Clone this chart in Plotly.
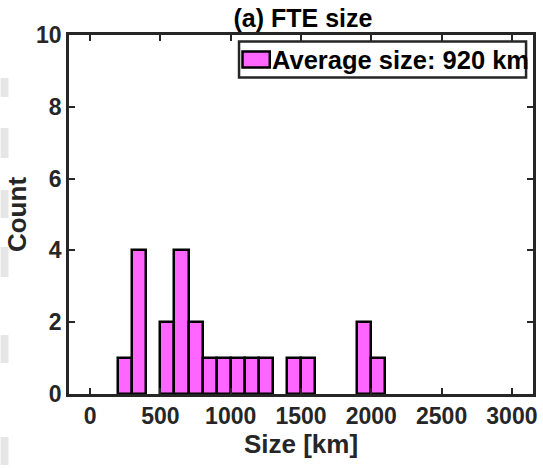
import plotly.graph_objects as go

bin_left = [200, 300, 500, 600, 700, 800, 900, 1000, 1100, 1200, 1400, 1500, 1900, 2000]
counts = [1, 4, 2, 4, 2, 1, 1, 1, 1, 1, 1, 1, 2, 1]
bin_width = 100
x_ticks = [0, 500, 1000, 1500, 2000, 2500, 3000]
y_ticks = [0, 2, 4, 6, 8, 10]
legend_label = "Average size: 920 km"

W, H = 543, 468
L, R, T, B = 69, 537, 35, 394
FONT = "Liberation Sans, Arial, sans-serif"
AX = "#262626"
BAR = "#ff66ff"

centers = [b + bin_width / 2 for b in bin_left]

def px(x):
    return (x - L) / (R - L)

def py(y):
    return (B - y) / (B - T)

fig = go.Figure()
fig.add_trace(go.Bar(
    x=centers, y=counts, width=bin_width,
    marker=dict(color=BAR, line=dict(color="black", width=2.5)),
    name=legend_label, showlegend=False,
))

shapes = []
# light grey artifacts at left edge
patches = [(78, 97), (128, 158), (190, 218), (247, 277), (335, 363), (437, 465)]
for y0, y1 in patches:
    shapes.append(dict(type="rect", xref="paper", yref="paper",
                       x0=px(0), x1=px(8), y0=py(y1), y1=py(y0),
                       fillcolor="#e6e6e6", line=dict(width=0), layer="below"))

# legend box and symbol
shapes.append(dict(type="rect", xref="paper", yref="paper",
                   x0=px(240.5), x1=px(530), y0=py(77.5), y1=py(41.5),
                   fillcolor="white", line=dict(color=AX, width=2.5), layer="above"))
shapes.append(dict(type="rect", xref="paper", yref="paper",
                   x0=px(244), x1=px(271.5), y0=py(67.5), y1=py(51.5),
                   fillcolor=BAR, line=dict(color="black", width=2.5), layer="above"))

annotations = [dict(text="<b>" + legend_label + "</b>", xref="paper", yref="paper",
                    x=px(272), y=py(60), xanchor="left", yanchor="middle",
                    showarrow=False,
                    font=dict(family=FONT, size=25.5, color="black"))]

axis_common = dict(
    showline=True, linecolor=AX, linewidth=2.5, mirror="allticks",
    ticks="inside", ticklen=6, tickwidth=2, tickcolor=AX,
    showgrid=False, zeroline=False,
    tickfont=dict(family=FONT, size=23, color=AX, weight="bold"),
)

fig.update_layout(
    width=W, height=H,
    margin=dict(l=L, r=W - R, t=T, b=H - B, pad=0),
    paper_bgcolor="white", plot_bgcolor="white",
    title=dict(text="<b>(a) FTE size</b>", x=(L + R) / 2 / W, xanchor="center",
               y=1 - 18 / H, yanchor="middle",
               font=dict(family=FONT, size=25, color="black")),
    xaxis=dict(range=[-150, 3150], tickvals=x_ticks,
               title=dict(text="<b>Size [km]</b>", standoff=4,
                          font=dict(family=FONT, size=26, color=AX)),
               **axis_common),
    yaxis=dict(range=[0, 10], tickvals=y_ticks,
               title=dict(text="<b>Count</b>", standoff=2,
                          font=dict(family=FONT, size=26, color=AX)),
               **axis_common),
    shapes=shapes,
    annotations=annotations,
    bargap=0,
)

fig.write_html("out.html")
